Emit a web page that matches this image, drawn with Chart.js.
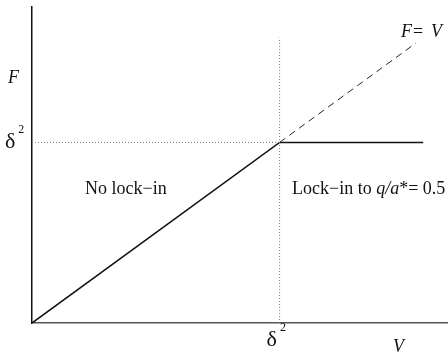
<!DOCTYPE html>
<html><head><meta charset="utf-8">
<script src="https://cdn.jsdelivr.net/npm/chart.js@4.4.1/dist/chart.umd.min.js"></script>
<style>html,body{margin:0;padding:0;background:#fff}#wrap{width:448px;height:353px}</style>
</head><body><div id="wrap"><canvas id="c" width="448" height="353"></canvas></div>
<script>
// Values in units of delta^2
const lockV = [0, 1, 1.58];
const lockF = [0, 1, 1];
const diagV = [1, 1.55];
const diagF = [1, 1.55];
const vertV = [1, 1];
const vertF = [0, 1.58];
const horzV = [0, 1];
const horzF = [1, 1];
const tickLabel = 'δ';
const tickSup = '2';
const xMax = 1.68, yMax = 1.75;

const pts = (xs, ys) => xs.map((x, i) => ({x, y: ys[i]}));
const SERIF = '"Liberation Serif", "DejaVu Serif", serif';

const labels = {
  id: 'labels',
  afterDraw(chart) {
    const {ctx, scales: {x, y}} = chart;
    ctx.save();
    ctx.fillStyle = '#111';
    ctx.textBaseline = 'alphabetic';
    const delta = (px, py) => {
      ctx.font = '22px ' + SERIF;
      ctx.textAlign = 'left';
      ctx.fillText(tickLabel, px, py);
      const w = ctx.measureText(tickLabel).width;
      ctx.font = '12px ' + SERIF;
      ctx.fillText(tickSup, px + w + 3, py - 15);
    };
    delta(5, y.getPixelForValue(1) + 6);
    delta(x.getPixelForValue(1) - 13, y.getPixelForValue(0) + 23);
    ctx.font = 'italic 18px ' + SERIF;
    ctx.fillText('F', 8, 83);
    ctx.fillText('V', 393, 352);
    ctx.fillText('F', 401, 37);
    ctx.font = '18px ' + SERIF;
    ctx.fillText('=', 413, 37);
    ctx.font = 'italic 18px ' + SERIF;
    ctx.fillText('V', 431, 37);
    ctx.font = '18px ' + SERIF;
    ctx.fillText('No lock\u2212in', 85, 194);
    let px = 292;
    const s1 = 'Lock\u2212in to ';
    ctx.fillText(s1, px, 194); px += ctx.measureText(s1).width;
    ctx.font = 'italic 18px ' + SERIF;
    const s2 = 'q/a';
    ctx.fillText(s2, px, 194); px += ctx.measureText(s2).width;
    ctx.font = '18px ' + SERIF;
    ctx.fillText('*= 0.5', px, 194);
    ctx.restore();
  }
};

new Chart(document.getElementById('c'), {
  type: 'scatter',
  data: {
    datasets: [
      {data: pts(horzV, horzF), showLine: true, borderColor: '#777', borderWidth: 1, borderDash: [1, 2], pointRadius: 0},
      {data: pts(vertV, vertF), showLine: true, borderColor: '#777', borderWidth: 1, borderDash: [1, 2], pointRadius: 0},
      {data: pts(diagV, diagF), showLine: true, borderColor: '#222', borderWidth: 1, borderDash: [7, 5], pointRadius: 0},
      {data: pts(lockV, lockF), showLine: true, borderColor: '#111', borderWidth: 1.6, pointRadius: 0}
    ]
  },
  options: {
    responsive: false,
    animation: false,
    layout: {padding: {left: 32, top: 7, right: 0, bottom: 30}},
    plugins: {legend: {display: false}, tooltip: {enabled: false}},
    scales: {
      x: {type: 'linear', min: 0, max: xMax, grid: {display: false, drawTicks: false}, ticks: {display: false}, border: {display: true, color: '#555', width: 1.5}},
      y: {type: 'linear', min: 0, max: yMax, grid: {display: false, drawTicks: false}, ticks: {display: false}, border: {display: true, color: '#111', width: 1.5}}
    }
  },
  plugins: [labels]
});
</script></body></html>
